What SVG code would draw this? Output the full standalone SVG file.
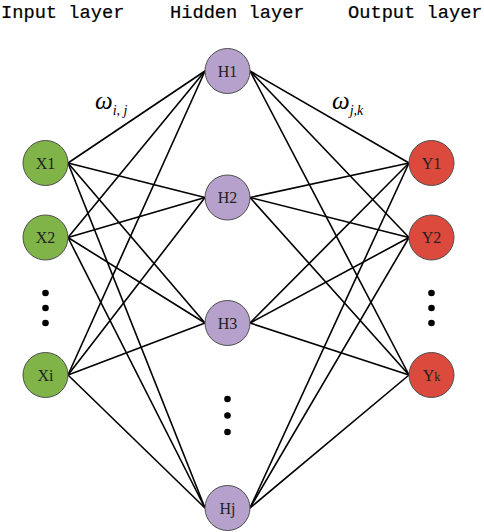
<svg xmlns="http://www.w3.org/2000/svg" width="484" height="532" viewBox="0 0 484 532">
<style>
.title{font-family:"Liberation Mono","DejaVu Sans Mono",monospace;font-size:18.7px;fill:#000;stroke:#000;stroke-width:0.2}
.lbl{font-family:"Liberation Serif","Times New Roman",serif;font-size:16px;fill:#222;text-anchor:middle}
.w{font-family:"Liberation Serif","Times New Roman",serif;font-style:italic;fill:#000}
.in{fill:#80b449;stroke:#4d4d4d;stroke-width:1}
.hid{fill:#b6a1cc;stroke:#4d4d4d;stroke-width:1}
.out{fill:#dc4a3d;stroke:#4d4d4d;stroke-width:1}
.conn line{stroke:#000;stroke-width:1.6}
.dot{fill:#000}
</style>
<rect width="484" height="532" fill="#fff"/>
<text class="title" x="1" y="18">Input layer</text>
<text class="title" x="170" y="18">Hidden layer</text>
<text class="title" x="348" y="18">Output layer</text>
<g id="connectors" class="conn">
<line x1="68" y1="163" x2="205" y2="71"/>
<line x1="68" y1="163" x2="205" y2="197.5"/>
<line x1="68" y1="163" x2="205" y2="323"/>
<line x1="68" y1="163" x2="205" y2="508"/>
<line x1="68" y1="237.5" x2="205" y2="71"/>
<line x1="68" y1="237.5" x2="205" y2="197.5"/>
<line x1="68" y1="237.5" x2="205" y2="323"/>
<line x1="68" y1="237.5" x2="205" y2="508"/>
<line x1="68" y1="375" x2="205" y2="71"/>
<line x1="68" y1="375" x2="205" y2="197.5"/>
<line x1="68" y1="375" x2="205" y2="323"/>
<line x1="68" y1="375" x2="205" y2="508"/>
<line x1="250" y1="71" x2="409" y2="163"/>
<line x1="250" y1="71" x2="409" y2="237.5"/>
<line x1="250" y1="71" x2="409" y2="375"/>
<line x1="250" y1="197.5" x2="409" y2="163"/>
<line x1="250" y1="197.5" x2="409" y2="237.5"/>
<line x1="250" y1="197.5" x2="409" y2="375"/>
<line x1="250" y1="323" x2="409" y2="163"/>
<line x1="250" y1="323" x2="409" y2="237.5"/>
<line x1="250" y1="323" x2="409" y2="375"/>
<line x1="250" y1="508" x2="409" y2="163"/>
<line x1="250" y1="508" x2="409" y2="237.5"/>
<line x1="250" y1="508" x2="409" y2="375"/>
</g>
<g id="X1"><circle class="in" cx="45.5" cy="163" r="22.5"/><text class="lbl" x="45.5" y="168.5">X1</text></g>
<g id="X2"><circle class="in" cx="45.5" cy="237.5" r="22.5"/><text class="lbl" x="45.5" y="243">X2</text></g>
<g id="Xi"><circle class="in" cx="45.5" cy="375" r="22.5"/><text class="lbl" x="45.5" y="380.5">Xi</text></g>
<g id="H1"><circle class="hid" cx="227.5" cy="71" r="22.5"/><text class="lbl" x="227.5" y="76.5">H1</text></g>
<g id="H2"><circle class="hid" cx="227.5" cy="197.5" r="22.5"/><text class="lbl" x="227.5" y="203">H2</text></g>
<g id="H3"><circle class="hid" cx="227.5" cy="323" r="22.5"/><text class="lbl" x="227.5" y="328.5">H3</text></g>
<g id="Hj"><circle class="hid" cx="227.5" cy="508" r="22.5"/><text class="lbl" x="227.5" y="513.5">Hj</text></g>
<g id="Y1"><circle class="out" cx="431.5" cy="163" r="22.5"/><text class="lbl" x="431.5" y="168.5">Y1</text></g>
<g id="Y2"><circle class="out" cx="431.5" cy="237.5" r="22.5"/><text class="lbl" x="431.5" y="243">Y2</text></g>
<g id="Yk"><circle class="out" cx="431.5" cy="375" r="22.5"/><text class="lbl" x="431.5" y="380.5">Y<tspan font-size="12px">k</tspan></text></g>
<g id="dots">
<circle class="dot" cx="45.5" cy="293" r="3.3"/><circle class="dot" cx="45.5" cy="308" r="3.3"/><circle class="dot" cx="45.5" cy="323" r="3.3"/>
<circle class="dot" cx="227.5" cy="399" r="3.3"/><circle class="dot" cx="227.5" cy="415.5" r="3.3"/><circle class="dot" cx="227.5" cy="432" r="3.3"/>
<circle class="dot" cx="431.5" cy="293" r="3.3"/><circle class="dot" cx="431.5" cy="308" r="3.3"/><circle class="dot" cx="431.5" cy="323" r="3.3"/>
</g>
<g id="w_ij"><text class="w" x="95" y="109" font-size="25px">ω<tspan font-size="14px" dy="6">i, j</tspan></text></g>
<g id="w_jk"><text class="w" x="332" y="109" font-size="25px">ω<tspan font-size="14px" dy="6">j,k</tspan></text></g>
</svg>
